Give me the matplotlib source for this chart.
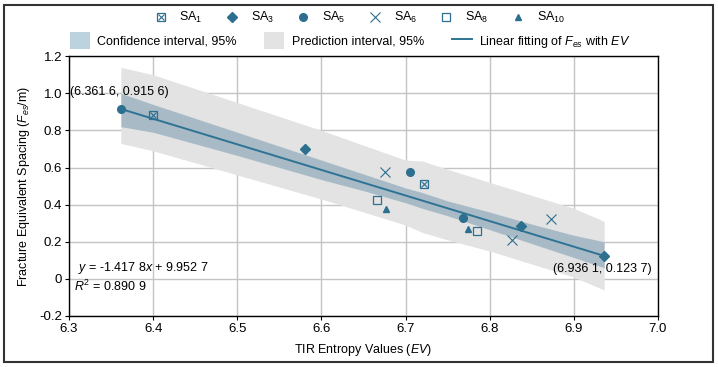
import numpy as np
import matplotlib.pyplot as plt
from matplotlib.lines import Line2D
from matplotlib.patches import Patch, Rectangle
from matplotlib.ticker import FuncFormatter

plt.rcParams['font.family'] = ['Liberation Sans', 'DejaVu Sans']
plt.rcParams['mathtext.fontset'] = 'custom'
plt.rcParams['mathtext.rm'] = 'Liberation Sans'
plt.rcParams['mathtext.it'] = 'Liberation Sans:italic'

# sample points
sa1_x = [6.400, 6.722]
sa1_y = [0.883, 0.510]
sa3_x = [6.580, 6.837, 6.9361]
sa3_y = [0.699, 0.284, 0.1237]
sa5_x = [6.3616, 6.705, 6.768]
sa5_y = [0.9156, 0.575, 0.326]
sa6_x = [6.675, 6.826, 6.873]
sa6_y = [0.576, 0.212, 0.321]
sa8_x = [6.666, 6.785]
sa8_y = [0.423, 0.257]
sa10_x = [6.677, 6.774]
sa10_y = [0.375, 0.266]

# fitted line end points (annotated)
fit_x = [6.3616, 6.9361]
fit_y = [0.9156, 0.1237]

# interval bands
band_x = [6.3616, 6.40, 6.50, 6.60, 6.65, 6.70, 6.72, 6.75, 6.80, 6.85, 6.90, 6.9361]
pred_hi = [1.14, 1.10, 0.95, 0.80, 0.72, 0.64, 0.635, 0.59, 0.52, 0.45, 0.38, 0.31]
pred_lo = [0.73, 0.69, 0.56, 0.43, 0.36, 0.29, 0.25, 0.21, 0.15, 0.08, 0.01, -0.06]
conf_hi = [1.00, 0.94, 0.79, 0.64, 0.565, 0.49, 0.465, 0.42, 0.36, 0.295, 0.235, 0.20]
conf_lo = [0.82, 0.79, 0.665, 0.535, 0.475, 0.41, 0.38, 0.34, 0.265, 0.19, 0.115, 0.06]

c = '#2c6f8e'
lc = '#2f7394'
fs = 9

fig = plt.figure(figsize=(7.18, 3.67), dpi=100)
ax = fig.add_axes([0.0961, 0.139, 0.8203, 0.708])

ax.fill_between(band_x, pred_lo, pred_hi, color='#e3e3e3', lw=0, zorder=1)
ax.fill_between(band_x, conf_lo, conf_hi, color='#5f8aa3', alpha=0.45, lw=0, zorder=2)
ax.plot(fit_x, fit_y, color=lc, lw=1.4, zorder=3)

ms = 5
ax.plot(sa1_x, sa1_y, 's', ms=ms + 1, mfc='none', mec=c, mew=0.9, zorder=4)
ax.plot(sa1_x, sa1_y, 'x', ms=ms - 1, mec=c, mew=0.8, zorder=4)
ax.plot(sa3_x, sa3_y, 'D', ms=ms, color=c, zorder=4)
ax.plot(sa5_x, sa5_y, 'o', ms=ms + 0.5, color=c, zorder=4)
ax.plot(sa6_x, sa6_y, 'x', ms=ms + 2, mec=c, mew=0.8, zorder=4)
ax.plot(sa8_x, sa8_y, 's', ms=ms + 1, mfc='none', mec=c, mew=0.9, zorder=4)
ax.plot(sa10_x, sa10_y, '^', ms=ms, color=c, zorder=4)

ax.set_xlim(6.3, 7.0)
ax.set_ylim(-0.2, 1.2)
ax.set_xticks(np.arange(6.3, 7.01, 0.1))
ax.set_yticks(np.arange(-0.2, 1.21, 0.2))
ax.xaxis.set_major_formatter(FuncFormatter(lambda v, p: f'{v:.1f}'))
ax.yaxis.set_major_formatter(FuncFormatter(lambda v, p: '0' if abs(v) < 1e-9 else f'{v:.1f}'))
ax.grid(True, color='#c4c4c4', lw=1.0)
ax.set_axisbelow(True)
ax.tick_params(labelsize=fs + 0.5, length=3, direction='out', pad=2)
for s in ax.spines.values():
    s.set_linewidth(1.0)

ax.set_xlabel('TIR Entropy Values ($\\it{EV}$)', fontsize=fs, labelpad=5)
ax.set_ylabel('Fracture Equivalent Spacing ($F_{es}$/m)', fontsize=fs, labelpad=5)

ax.text(6.3015, 1.005, '(6.361 6, 0.915 6)', fontsize=fs, va='center', ha='left', zorder=5)
ax.text(6.993, 0.055, '(6.936 1, 0.123 7)', fontsize=fs, va='center', ha='right', zorder=5)
ax.text(6.311, 0.061, '$y$ = -1.417 8$x$ + 9.952 7', fontsize=fs, va='center', ha='left')
ax.text(6.306, -0.04, '$R^2$ = 0.890 9', fontsize=fs, va='center', ha='left')

# legends
h_sa = [
    (Line2D([], [], ls='none', marker='s', ms=ms + 1, mfc='none', mec=c, mew=0.9),
     Line2D([], [], ls='none', marker='x', ms=ms - 1, mec=c, mew=0.8)),
    Line2D([], [], ls='none', marker='D', ms=ms, color=c),
    Line2D([], [], ls='none', marker='o', ms=ms + 0.5, color=c),
    Line2D([], [], ls='none', marker='x', ms=ms + 2, mec=c, mew=0.8),
    Line2D([], [], ls='none', marker='s', ms=ms + 1, mfc='none', mec=c, mew=0.9),
    Line2D([], [], ls='none', marker='^', ms=ms, color=c),
]
l_sa = ['SA$_1$', 'SA$_3$', 'SA$_5$', 'SA$_6$', 'SA$_8$', 'SA$_{10}$']
fig.legend(h_sa, l_sa, ncol=6, loc='center', bbox_to_anchor=(0.50, 0.952),
           frameon=False, fontsize=fs, handlelength=1.2, columnspacing=1.75,
           handletextpad=0.9)

h_band = [
    Patch(color='#bcd2df', lw=0),
    Patch(color='#e3e3e3', lw=0),
    Line2D([], [], color=lc, lw=1.4),
]
l_band = ['Confidence interval, 95%', 'Prediction interval, 95%',
          'Linear fitting of $F_{es}$ with $\\it{EV}$']
fig.legend(h_band, l_band, ncol=3, loc='center', bbox_to_anchor=(0.488, 0.888),
           frameon=False, fontsize=fs, handlelength=1.6, handleheight=1.7,
           columnspacing=2.2, handletextpad=0.6)

fig.patches.append(Rectangle((4 / 718, 5 / 367), 709 / 718, 357 / 367, transform=fig.transFigure,
                             fill=False, edgecolor='#333333', lw=1.5))

fig.savefig('out.png', dpi=100)
